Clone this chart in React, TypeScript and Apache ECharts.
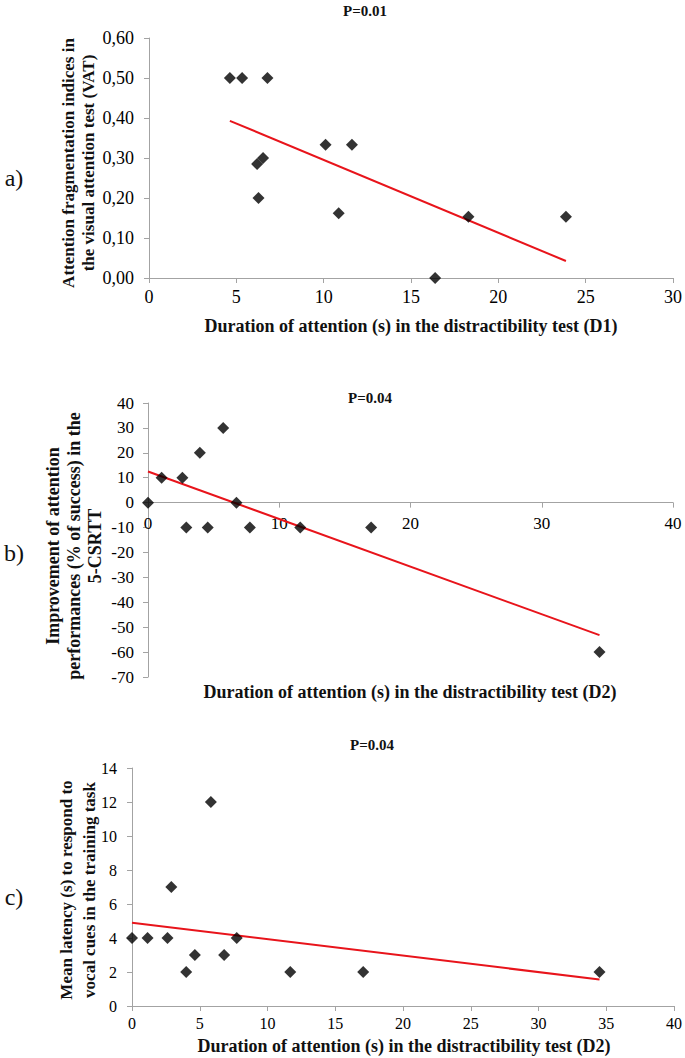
import React, { useEffect, useRef } from "react";
import * as echarts from "echarts";

// Panel a: D1 duration vs VAT fragmentation
const xA = [4.63, 5.33, 6.78, 6.19, 6.53, 6.27, 10.11, 11.62, 10.86, 18.29, 23.87, 16.38];
const yA = [0.5, 0.5, 0.5, 0.285, 0.3, 0.2, 0.333, 0.333, 0.162, 0.153, 0.153, 0];
const trendA = [[4.63, 0.393], [23.87, 0.0425]];

// Panel b: D2 duration vs improvement in 5-CSRTT
const xB = [0, 1.04, 2.62, 3.95, 5.73, 2.92, 4.55, 6.74, 7.76, 11.6, 17.0, 34.4];
const yB = [0, 10, 10, 20, 30, -10, -10, 0, -10, -10, -10, -60];
const trendB = [[0, 12.5], [34.4, -53.2]];

// Panel c: D2 duration vs mean latency
const xC = [0, 1.15, 2.62, 2.9, 5.82, 4.0, 4.64, 6.8, 7.73, 11.68, 17.06, 34.5];
const yC = [4, 4, 4, 7, 12, 2, 3, 3, 4, 2, 2, 2];
const trendC = [[0, 4.9], [34.5, 1.56]];

const titles = ["P=0.01", "P=0.04", "P=0.04"];
const panelLetters = ["a)", "b)", "c)"];
const xNames = [
  "Duration of attention (s) in the distractibility test (D1)",
  "Duration of attention (s) in the distractibility test (D2)",
  "Duration of attention (s) in the distractibility test (D2)",
];
const yNames = [
  "Attention fragmentation indices in\nthe visual attention test (VAT)",
  "Improvement of attention\nperformances (% of success) in the\n5-CSRTT",
  "Mean latency (s) to respond to\nvocal cues in the training task",
];

const SERIF = "'Liberation Serif', 'Times New Roman', Times, serif";
const AXIS_GREY = "#a3a3a3";
const RED = "#e8141b";

function pairs(xs: number[], ys: number[]) {
  return xs.map((x, i) => [x, ys[i]]);
}

export default function App() {
  const ref = useRef<HTMLDivElement>(null);
  useEffect(() => {
    if (!ref.current) return;
    const chart = echarts.init(ref.current, null, { renderer: "svg" });

    const axisCommon = (fontSize: number, margin: number) => ({
      type: "value" as const,
      splitLine: { show: false },
      axisLine: { show: true, onZero: false, lineStyle: { color: AXIS_GREY, width: 1 } },
      axisTick: { show: true, length: 5, lineStyle: { color: AXIS_GREY } },
      axisLabel: { color: "#000", fontFamily: SERIF, fontSize, margin },
    });

    const grids = [
      { left: 149, top: 38, width: 525, height: 240 },
      { left: 148, top: 403, width: 525, height: 274 },
      { left: 132, top: 768, width: 543, height: 238 },
    ];

    const yMinB = -70;
    const yMaxB = 40;
    // place panel b's x axis at y = 0 of its value axis
    const zeroOffsetB = -(grids[1].height * (0 - yMinB)) / (yMaxB - yMinB);

    const xAxes = [
      { ...axisCommon(18, 10), gridIndex: 0, min: 0, max: 30, interval: 5 },
      { ...axisCommon(17, 12), gridIndex: 1, min: 0, max: 40, interval: 10, offset: zeroOffsetB },
      { ...axisCommon(16, 9), gridIndex: 2, min: 0, max: 40, interval: 5 },
    ];
    const yAxes = [
      {
        ...axisCommon(18, 15), gridIndex: 0, min: 0, max: 0.6, interval: 0.1,
        axisLabel: { color: "#000", fontFamily: SERIF, fontSize: 18, margin: 15, formatter: (v: number) => v.toFixed(2).replace(".", ",") },
      },
      { ...axisCommon(17, 14), gridIndex: 1, min: yMinB, max: yMaxB, interval: 10 },
      { ...axisCommon(16, 15), gridIndex: 2, min: 0, max: 14, interval: 2 },
    ];

    const scatter = (i: number, data: number[][]) => ({
      type: "scatter" as const,
      xAxisIndex: i,
      yAxisIndex: i,
      data,
      symbol: "diamond",
      symbolSize: 12,
      itemStyle: { color: "#000" },
      z: 3,
    });
    const trend = (i: number, data: number[][]) => ({
      type: "line" as const,
      xAxisIndex: i,
      yAxisIndex: i,
      data,
      symbol: "none",
      lineStyle: { color: RED, width: 2 },
      z: 2,
    });

    const titlePos = [[365, 11], [370, 398], [372, 745]];
    const xNamePos = [[411, 326, 18], [410, 692, 18], [404, 1046, 18]];
    const yNamePos = [[78, 163, 17, 20], [74, 546, 18, 21], [78, 890, 17, 23]];
    const letterPos = [[14, 178], [14, 553], [14, 897]];

    const graphic: any[] = [];
    for (let i = 0; i < 3; i++) {
      graphic.push({
        type: "text", x: titlePos[i][0], y: titlePos[i][1],
        style: { text: titles[i], font: `bold 15px ${SERIF}`, fill: "#111", align: "center", verticalAlign: "middle" },
      });
      graphic.push({
        type: "text", x: xNamePos[i][0], y: xNamePos[i][1],
        style: { text: xNames[i], font: `bold ${xNamePos[i][2]}px ${SERIF}`, fill: "#111", align: "center", verticalAlign: "middle" },
      });
      graphic.push({
        type: "text", x: yNamePos[i][0], y: yNamePos[i][1], rotation: Math.PI / 2,
        style: { text: yNames[i], font: `bold ${yNamePos[i][2]}px ${SERIF}`, lineHeight: yNamePos[i][3], fill: "#111", align: "center", verticalAlign: "middle" },
      });
      graphic.push({
        type: "text", x: letterPos[i][0], y: letterPos[i][1],
        style: { text: panelLetters[i], font: `24px ${SERIF}`, fill: "#111", align: "center", verticalAlign: "middle" },
      });
    }

    chart.setOption({
      animation: false,
      backgroundColor: "#fff",
      textStyle: { fontFamily: SERIF },
      grid: grids,
      xAxis: xAxes,
      yAxis: yAxes,
      series: [
        trend(0, trendA), scatter(0, pairs(xA, yA)),
        trend(1, trendB), scatter(1, pairs(xB, yB)),
        trend(2, trendC), scatter(2, pairs(xC, yC)),
      ],
      graphic,
    });
    return () => chart.dispose();
  }, []);
  return (
    <div
      ref={ref}
      style={{ position: "absolute", left: 0, top: 0, width: 685, height: 1058, background: "#fff" }}
    />
  );
}
